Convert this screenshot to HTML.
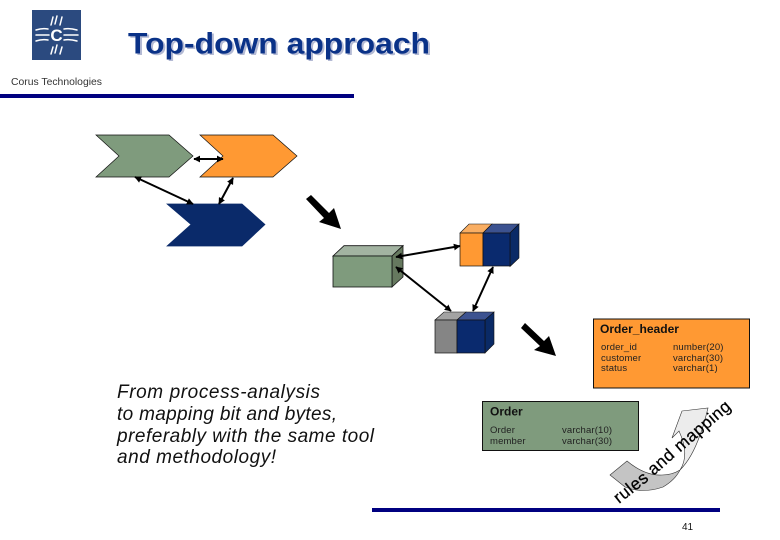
<!DOCTYPE html>
<html><head><meta charset="utf-8"><style>
html,body{margin:0;padding:0;background:#fff}
svg{display:block}
text{font-family:"Liberation Sans",sans-serif}
</style></head><body>
<svg width="780" height="540" viewBox="0 0 780 540" xmlns="http://www.w3.org/2000/svg">
<defs>
<marker id="a" viewBox="0 0 10 10" refX="9" refY="5" markerWidth="3.4" markerHeight="3.4" orient="auto-start-reverse"><path d="M0 0L10 5L0 10Z" fill="#000"/></marker>
</defs>
<!-- logo -->
<rect x="32" y="10" width="49" height="50" fill="#2b4a7f"/>
<g stroke="#fff" stroke-width="1.500" fill="none" stroke-linecap="round">
<path d="M51 25L53 17M55 24L57 16M60 25L62 17"/>
<path d="M51 54L53 47M55 53L57 45M60 54L62 47"/>
<path d="M36 30Q42 28 48 29M36 35L49 35M36 41Q42 39 48 40M64 29Q70 28 77 30M64 35L78 35M64 40Q70 39 77 41"/>
</g>
<text x="56.500" y="41" font-size="17" font-weight="bold" fill="#fff" text-anchor="middle">C</text>
<text x="11" y="85" font-size="10.5" fill="#333" textLength="91" lengthAdjust="spacingAndGlyphs">Corus Technologies</text>
<!-- title -->
<text x="130" y="55" font-size="29.500" font-weight="bold" fill="#b4bad4" textLength="302" lengthAdjust="spacingAndGlyphs">Top-down approach</text>
<text x="128" y="53.500" font-size="29.500" font-weight="bold" fill="#0a3288" textLength="302" lengthAdjust="spacingAndGlyphs">Top-down approach</text>
<rect x="0" y="94" width="354" height="4" fill="#000080"/>
<rect x="372" y="508" width="348" height="4" fill="#000080"/>
<!-- chevrons -->
<polygon points="96,135 169,135 193,156 169,177 96,177 119,156" fill="#7f9b7d" stroke="#111" stroke-width=".7"/>
<polygon points="200,135 273,135 297,156 273,177 200,177 223,156" fill="#ff9933" stroke="#111" stroke-width=".7"/>
<polygon points="167,204 242,204 265,224.500 242,246 167,246 191,224.500" fill="#0a2a6a" stroke="#0a2a6a" stroke-width=".7"/>
<!-- connectors -->
<g stroke="#000" stroke-width="2" fill="none">
<line x1="194" y1="159" x2="223" y2="159" marker-start="url(#a)" marker-end="url(#a)"/>
<line x1="135" y1="177" x2="193" y2="204" marker-start="url(#a)" marker-end="url(#a)"/>
<line x1="233" y1="178" x2="219" y2="204" marker-start="url(#a)" marker-end="url(#a)"/>
</g>
<!-- big arrows -->
<polygon points="306,199 311,195 329,213 334,208 341,229 319,222 324,218" fill="#000"/>
<polygon points="521,328 525,323 544,341 549,336 556,356 534,350 540,346" fill="#000"/>
<!-- green box -->
<polygon points="333,256 344,245.700 403,245.700 392,256" fill="#a2b3a1" stroke="#111" stroke-width=".8"/>
<polygon points="392,256 403,245.700 403,277 392,287" fill="#66795f" stroke="#111" stroke-width=".8"/>
<rect x="333" y="256" width="59" height="31" fill="#7f9b7d" stroke="#111" stroke-width=".8"/>
<!-- orange/navy box -->
<polygon points="460,233 469,224 492,224 483,233" fill="#f9ae63" stroke="#111" stroke-width=".6"/>
<polygon points="483,233 492,224 519,224 510,233" fill="#3c5290" stroke="#111" stroke-width=".6"/>
<polygon points="510,233 519,224 519,258 510,266.500" fill="#0a2a66" stroke="#111" stroke-width=".6"/>
<rect x="460" y="233" width="23" height="33" fill="#ff9933" stroke="#111" stroke-width=".7"/>
<rect x="483" y="233" width="27" height="33" fill="#0a2a6e" stroke="#111" stroke-width=".7"/>
<!-- gray/navy box -->
<polygon points="435,320 444,312 466,312 457,320" fill="#a3a3a3" stroke="#111" stroke-width=".6"/>
<polygon points="457,320 466,312 494,312 485,320" fill="#3c5290" stroke="#111" stroke-width=".6"/>
<polygon points="485,320 494,312 494,344 485,353" fill="#0a2a66" stroke="#111" stroke-width=".6"/>
<rect x="435" y="320" width="22" height="33" fill="#858585" stroke="#111" stroke-width=".7"/>
<rect x="457" y="320" width="28" height="33" fill="#0a2a6e" stroke="#111" stroke-width=".7"/>
<g stroke="#000" stroke-width="2" fill="none">
<line x1="396" y1="257" x2="460" y2="246" marker-start="url(#a)" marker-end="url(#a)"/>
<line x1="396" y1="267" x2="451" y2="311" marker-start="url(#a)" marker-end="url(#a)"/>
<line x1="493" y1="267" x2="473" y2="311" marker-start="url(#a)" marker-end="url(#a)"/>
</g>
<!-- italic text -->
<g font-size="19" font-style="italic" fill="#111">
<text x="117" y="398" textLength="203" lengthAdjust="spacing">From process-analysis</text>
<text x="117" y="420" textLength="220" lengthAdjust="spacing">to mapping bit and bytes,</text>
<text x="117" y="442" textLength="257" lengthAdjust="spacing">preferably with the same tool</text>
<text x="117" y="463" textLength="159" lengthAdjust="spacing">and methodology!</text>
</g>
<!-- Order_header -->
<rect x="593.500" y="319" width="156" height="69" fill="#ff9933" stroke="#111" stroke-width="1"/>
<text x="600" y="333" font-size="12" font-weight="bold" fill="#111" textLength="79" lengthAdjust="spacingAndGlyphs">Order_header</text>
<g font-size="9.500" fill="#222" letter-spacing=".15">
<text x="601" y="350">order_id</text><text x="601" y="361">customer</text><text x="601" y="371">status</text>
<text x="673" y="350">number(20)</text><text x="673" y="361">varchar(30)</text><text x="673" y="371">varchar(1)</text>
</g>
<!-- Order -->
<rect x="482.500" y="401.500" width="156" height="49" fill="#7f9b7d" stroke="#111" stroke-width="1"/>
<text x="490" y="415.500" font-size="12" font-weight="bold" fill="#111">Order</text>
<g font-size="9.500" fill="#222" letter-spacing=".15">
<text x="490" y="433">Order</text><text x="490" y="444">member</text>
<text x="562" y="433">varchar(10)</text><text x="562" y="444">varchar(30)</text>
</g>
<!-- curved arrow -->
<path d="M610 475L627 461Q645 476 662 475Q672 475 680 470Q675 480 663 487Q643 494 625 487Z" fill="#c4c4c4" stroke="#333" stroke-width=".6"/>
<path d="M682 411L708 408Q703 428 700 435Q692 458 680 470Q690 455 679 431L672 438Z" fill="#ececec" stroke="#333" stroke-width=".6"/>
<path id="tp" d="M619 504L648 481L676 456L732 408" fill="none"/>
<text font-size="17" fill="#000" stroke="#000" stroke-width=".25" letter-spacing=".5"><textPath href="#tp">rules and mapping</textPath></text>
<text x="682" y="530" font-size="10" fill="#111">41</text>
</svg>
</body></html>
